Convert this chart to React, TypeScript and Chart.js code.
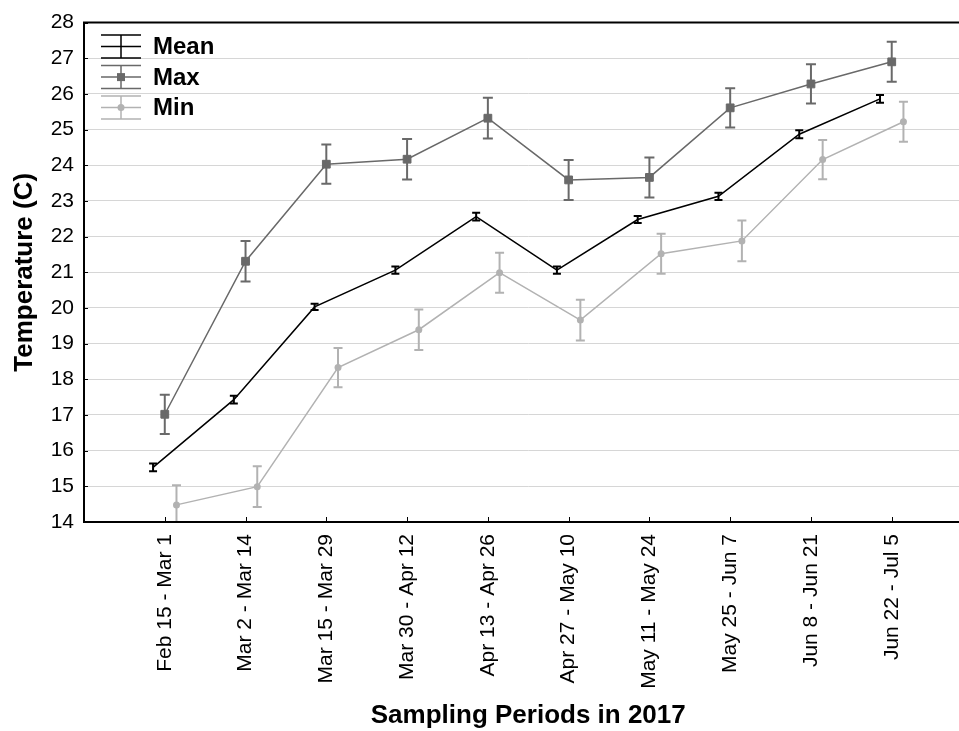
import React, { useEffect, useRef } from "react";
import { Chart, registerables } from "chart.js";

Chart.register(...registerables);

const categories = [
  "Feb 15 - Mar 1",
  "Mar 2 - Mar 14",
  "Mar 15 - Mar 29",
  "Mar 30 - Apr 12",
  "Apr 13 - Apr 26",
  "Apr 27 - May 10",
  "May 11 - May 24",
  "May 25 - Jun 7",
  "Jun 8 - Jun 21",
  "Jun 22 - Jul 5",
];

const meanValues = [15.53, 17.43, 20.03, 21.06, 22.56, 21.06, 22.48, 23.13, 24.87, 25.86];
const meanErrors = [0.11, 0.11, 0.09, 0.1, 0.11, 0.1, 0.1, 0.1, 0.11, 0.11];

const maxValues = [17.02, 21.31, 24.03, 24.17, 25.32, 23.59, 23.66, 25.61, 26.28, 26.9];
const maxErrors = [0.55, 0.57, 0.55, 0.57, 0.57, 0.56, 0.56, 0.55, 0.55, 0.56];

const minValues = [14.48, 14.99, 18.33, 19.39, 20.99, 19.66, 21.52, 21.88, 24.16, 25.22];
const minErrors = [0.55, 0.57, 0.55, 0.57, 0.56, 0.57, 0.56, 0.57, 0.55, 0.56];

const seriesNames = ["Mean", "Max", "Min"];

const yMin = 14;
const yMax = 28;

const FONT = "'Liberation Sans', Arial, sans-serif";

const MEAN_COLOR = "#000000";
const MAX_COLOR = "#696969";
const MIN_COLOR = "#b2b2b2";

// horizontal dodge of each series around its category centre (in category units)
const DODGE = { mean: -0.145, max: 0, min: 0.145 };

function toPoints(values: number[], dodge: number) {
  return values.map((v, i) => ({ x: i + dodge, y: v }));
}

const errorBarPlugin = {
  id: "errorBars",
  afterDatasetsDraw(chart: any) {
    const { ctx, chartArea, scales } = chart;
    const xs = scales.x;
    const ys = scales.y;
    ctx.save();
    ctx.beginPath();
    ctx.rect(chartArea.left, chartArea.top, chartArea.right - chartArea.left, chartArea.bottom - chartArea.top);
    ctx.clip();
    chart.data.datasets.forEach((ds: any) => {
      const errs: number[] = ds.errors || [];
      ctx.strokeStyle = ds.errorColor;
      ctx.lineWidth = ds.errorWidth;
      ds.data.forEach((p: any, i: number) => {
        const e = errs[i];
        if (e == null) return;
        const px = xs.getPixelForValue(p.x);
        const top = ys.getPixelForValue(p.y + e);
        const bot = ys.getPixelForValue(p.y - e);
        const c = ds.capHalf;
        ctx.beginPath();
        ctx.moveTo(px, top);
        ctx.lineTo(px, bot);
        ctx.moveTo(px - c, top);
        ctx.lineTo(px + c, top);
        ctx.moveTo(px - c, bot);
        ctx.lineTo(px + c, bot);
        ctx.stroke();
      });
    });
    ctx.restore();
  },
};

const framePlugin = {
  id: "frame",
  afterDraw(chart: any) {
    const { ctx, chartArea, scales } = chart;
    const { left, right, top, bottom } = chartArea;
    ctx.save();
    ctx.strokeStyle = "#000";
    // inward tick marks
    ctx.lineWidth = 1;
    ctx.beginPath();
    scales.y.ticks.forEach((t: any) => {
      const py = Math.round(scales.y.getPixelForValue(t.value)) + 0.5;
      ctx.moveTo(left, py);
      ctx.lineTo(left + 4, py);
    });
    categories.forEach((_, i) => {
      const px = Math.round(scales.x.getPixelForValue(i)) + 0.5;
      ctx.moveTo(px, bottom);
      ctx.lineTo(px, bottom - 5);
    });
    ctx.stroke();
    // frame
    ctx.lineWidth = 2;
    ctx.beginPath();
    ctx.moveTo(right + 5, top);
    ctx.lineTo(left, top);
    ctx.lineTo(left, bottom);
    ctx.lineTo(right + 5, bottom);
    ctx.stroke();
    ctx.restore();
  },
};

const legendPlugin = {
  id: "innerLegend",
  afterDraw(chart: any) {
    const { ctx, chartArea } = chart;
    const x0 = chartArea.left + 17;
    const w = 40;
    const cx = x0 + w / 2;
    ctx.save();
    chart.data.datasets.forEach((ds: any, i: number) => {
      const cy = chartArea.top + 24 + i * 30.5;
      const half = 11.5;
      ctx.strokeStyle = ds.borderColor;
      ctx.lineWidth = 1.5;
      ctx.beginPath();
      ctx.moveTo(x0, cy);
      ctx.lineTo(x0 + w, cy);
      ctx.moveTo(x0, cy - half);
      ctx.lineTo(x0 + w, cy - half);
      ctx.moveTo(x0, cy + half);
      ctx.lineTo(x0 + w, cy + half);
      ctx.moveTo(cx, cy - half);
      ctx.lineTo(cx, cy + half);
      ctx.stroke();
      ctx.fillStyle = ds.pointBackgroundColor;
      if (ds.pointStyle === "rect" && ds.pointRadius > 0) {
        ctx.fillRect(cx - 4, cy - 4, 8, 8);
      } else if (ds.pointRadius > 0) {
        ctx.beginPath();
        ctx.arc(cx, cy, 3.5, 0, Math.PI * 2);
        ctx.fill();
      }
      ctx.fillStyle = "#000";
      ctx.font = `bold 24px ${FONT}`;
      ctx.textBaseline = "middle";
      ctx.textAlign = "left";
      ctx.fillText(ds.label, x0 + 52, cy + 1);
    });
    ctx.restore();
  },
};

export default function App() {
  const canvasRef = useRef<HTMLCanvasElement | null>(null);

  useEffect(() => {
    if (!canvasRef.current) return;
    const chart = new Chart(canvasRef.current, {
      type: "line",
      data: {
        datasets: [
          {
            label: seriesNames[0],
            data: toPoints(meanValues, DODGE.mean),
            errors: meanErrors,
            errorColor: MEAN_COLOR,
            errorWidth: 2,
            capHalf: 4,
            borderColor: MEAN_COLOR,
            backgroundColor: MEAN_COLOR,
            pointBackgroundColor: MEAN_COLOR,
            borderWidth: 1.5,
            pointRadius: 0,
            tension: 0,
          } as any,
          {
            label: seriesNames[1],
            data: toPoints(maxValues, DODGE.max),
            errors: maxErrors,
            errorColor: MAX_COLOR,
            errorWidth: 2,
            capHalf: 5,
            borderColor: MAX_COLOR,
            backgroundColor: MAX_COLOR,
            pointBackgroundColor: MAX_COLOR,
            pointBorderColor: MAX_COLOR,
            pointStyle: "rect",
            pointRadius: 5.5,
            pointBorderWidth: 1,
            borderWidth: 1.5,
            tension: 0,
          } as any,
          {
            label: seriesNames[2],
            data: toPoints(minValues, DODGE.min),
            errors: minErrors,
            errorColor: MIN_COLOR,
            errorWidth: 2,
            capHalf: 4.5,
            borderColor: MIN_COLOR,
            backgroundColor: MIN_COLOR,
            pointBackgroundColor: MIN_COLOR,
            pointBorderColor: MIN_COLOR,
            pointStyle: "circle",
            pointRadius: 3.5,
            pointBorderWidth: 0,
            borderWidth: 1.5,
            tension: 0,
          } as any,
        ],
      },
      options: {
        animation: false,
        responsive: true,
        maintainAspectRatio: false,
        layout: { padding: { top: 20, left: 0, right: 1, bottom: 0 } },
        plugins: {
          legend: { display: false },
          tooltip: { enabled: false },
        },
        scales: {
          x: {
            type: "linear",
            min: -1,
            max: categories.length,
            grid: { display: false, drawTicks: false },
            border: { display: false },
            ticks: {
              stepSize: 1,
              autoSkip: false,
              maxRotation: 90,
              minRotation: 90,
              padding: 12,
              color: "#000",
              font: { family: FONT, size: 21 },
              callback: (v: any) => {
                const n = Number(v);
                return Number.isInteger(n) && n >= 0 && n < categories.length ? categories[n] : "";
              },
            },
            title: {
              display: true,
              text: "Sampling Periods in 2017",
              color: "#000",
              font: { family: FONT, size: 26, weight: "bold" },
              padding: { top: 0, bottom: 0 },
            },
            afterFit: (scale: any) => {
              scale.height = 209;
              scale.paddingLeft = 0;
              scale.paddingRight = 0;
            },
          },
          y: {
            min: yMin,
            max: yMax,
            grid: { color: "#d6d6d6", lineWidth: 1, drawTicks: false },
            border: { display: false },
            ticks: {
              stepSize: 1,
              padding: 10,
              color: "#000",
              font: { family: FONT, size: 21 },
            },
            title: {
              display: true,
              text: "Temperature (C)",
              color: "#000",
              font: { family: FONT, size: 26, weight: "bold" },
              padding: { top: 9, bottom: 0 },
            },
            afterFit: (scale: any) => {
              scale.width = 84;
            },
          },
        },
      } as any,
      plugins: [errorBarPlugin, framePlugin, legendPlugin],
    });
    return () => chart.destroy();
  }, []);

  return (
    <div
      style={{
        position: "fixed",
        left: 0,
        top: 0,
        width: 959,
        height: 731,
        overflow: "hidden",
        background: "#fff",
      }}
    >
      <div style={{ position: "relative", width: 979, height: 731 }}>
        <canvas ref={canvasRef} />
      </div>
    </div>
  );
}
